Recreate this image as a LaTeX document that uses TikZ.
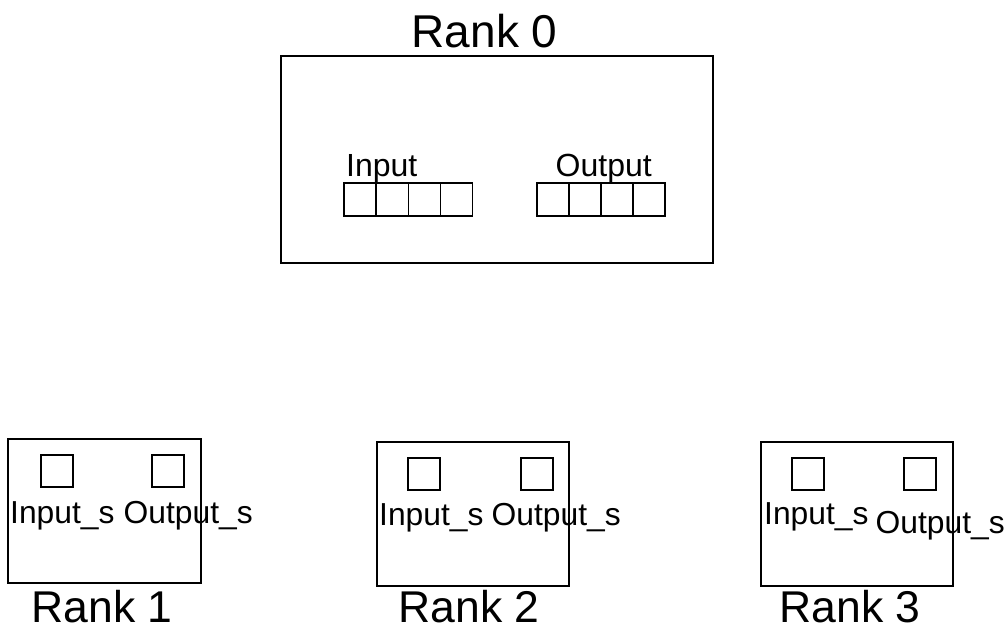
\documentclass[tikz,border=0pt]{standalone}
\usepackage{fontspec}
\setmainfont{Liberation Sans}
\begin{document}
\begin{tikzpicture}[x=1pt,y=-1pt,
  box/.style={draw,line width=1.3pt,inner sep=0pt,outer sep=0pt,anchor=north west},
  cell/.style={draw,line width=1.3pt,inner sep=0pt,outer sep=0pt,anchor=north west,minimum width=32pt,minimum height=33pt},
  sq/.style={draw,line width=1.3pt,inner sep=0pt,outer sep=0pt,anchor=north west,minimum width=32pt,minimum height=32pt},
  topt/.style={inner sep=0pt,anchor=base west,font=\fontsize{46}{52}\selectfont},
  big/.style={inner sep=0pt,anchor=base west,font=\fontsize{44.5}{50}\selectfont},
  mid/.style={inner sep=0pt,anchor=base west,font=\fontsize{32}{38}\selectfont},
  small/.style={inner sep=0pt,anchor=base west,font=\fontsize{31.8}{36}\selectfont}]
\useasboundingbox (0,0) rectangle (1008,627);
% Rank 0
\node[box,minimum width=432pt,minimum height=207pt] (r0) at (281,56) {};
\node[topt] (r0t) at (411.5,47) {Rank 0};
\node[mid] (r0in) at (346,176) {Input};
\node[mid] (r0out) at (555.5,176) {Output};
\foreach \i in {0,1,2,3}{
  \node[cell] (in\i) at ({344+32.25*\i},183) {};
  \node[cell] (out\i) at ({537+32*\i},183) {};
}
% Rank 1
\node[box,minimum width=193pt,minimum height=144pt] (r1) at (8,439) {};
\node[sq] (r1a) at (41,455) {};
\node[sq] (r1b) at (152,455) {};
\node[small] (r1in) at (10,523) {Input\_s};
\node[small] (r1out) at (123.5,523) {Output\_s};
\node[big] (r1t) at (31.5,622) {Rank 1};
% Rank 2
\node[box,minimum width=192pt,minimum height=144pt] (r2) at (377,442) {};
\node[sq] (r2a) at (408,458) {};
\node[sq] (r2b) at (521,458) {};
\node[small] (r2in) at (379,525) {Input\_s};
\node[small] (r2out) at (491.5,525) {Output\_s};
\node[big] (r2t) at (398.5,622) {Rank 2};
% Rank 3
\node[box,minimum width=192pt,minimum height=144pt] (r3) at (761,442) {};
\node[sq] (r3a) at (792,458) {};
\node[sq] (r3b) at (904,458) {};
\node[small] (r3in) at (764,524) {Input\_s};
\node[small] (r3out) at (875.5,533) {Output\_s};
\node[big] (r3t) at (779.5,622) {Rank 3};
\end{tikzpicture}
\end{document}
